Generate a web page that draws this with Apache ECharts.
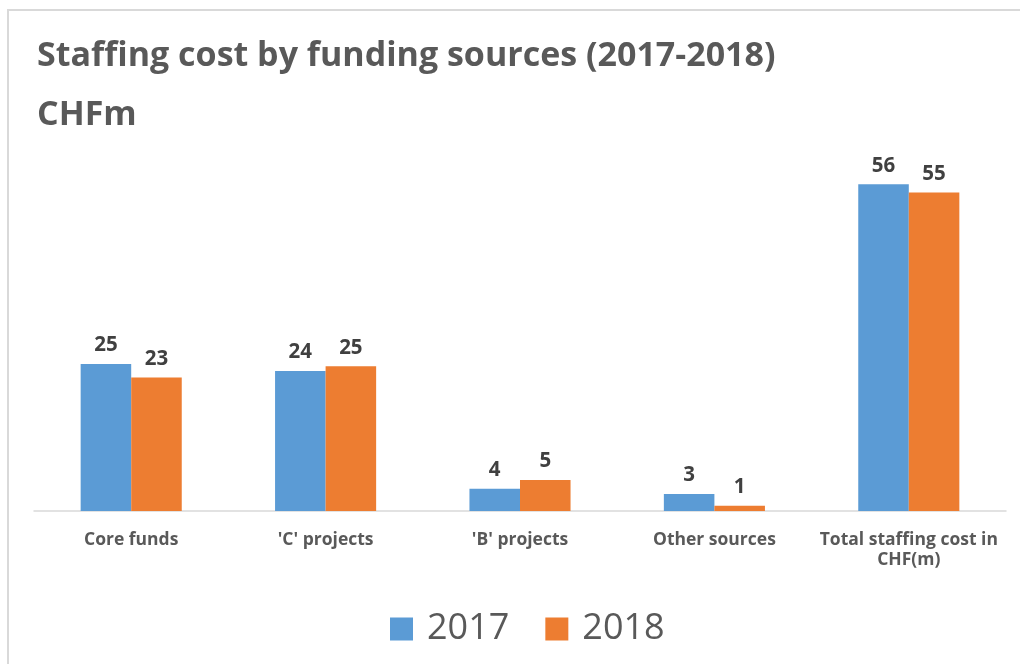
<!DOCTYPE html>
<html>
<head>
<meta charset="utf-8">
<script src="https://cdn.jsdelivr.net/npm/echarts@6/dist/echarts.min.js"></script>
<style>
    html, body { margin: 0; padding: 0; background: #fff; }
    #chart { width: 1020px; height: 664px; }
</style>
</head>
<body>
<div id="chart"></div>
<script>
const categories = ['Core funds', "'C' projects", "'B' projects", 'Other sources', 'Total staffing cost in\nCHF(m)'];
const values2017 = [25.2, 24.0, 3.8, 2.9, 56.0];
const values2018 = [22.9, 24.8, 5.3, 0.9, 54.6];
const seriesNames = ['2017', '2018'];

const myChart = echarts.init(document.getElementById('chart'));

const barLabel = {
    show: true,
    position: 'top',
    distance: 8,
    fontFamily: 'Open Sans',
    fontWeight: 'bold',
    fontSize: 20.5,
    color: '#404040',
    formatter: p => Math.round(p.value)
};

const option = {
    animation: false,
    color: ['#5B9BD5', '#ED7D31'],
    title: {
        text: 'Staffing cost by funding sources (2017-2018)\nCHFm',
        left: 32,
        top: 22,
        textStyle: {
            fontFamily: 'Open Sans',
            fontWeight: 'bold',
            fontSize: 34,
            lineHeight: 59,
            color: '#595959'
        }
    },
    graphic: [{
        type: 'rect',
        shape: { x: 8, y: 10, width: 1030, height: 680 },
        style: { fill: 'none', stroke: '#d9d9d9', lineWidth: 2 },
        silent: true
    }],
    legend: {
        data: seriesNames,
        bottom: 12,
        left: 385,
        itemWidth: 23,
        itemHeight: 23,
        itemGap: 36,
        icon: 'rect',
        textStyle: {
            fontFamily: 'Open Sans',
            fontSize: 36,
            color: '#595959',
            padding: [0, 0, 0, 9]
        }
    },
    grid: {
        left: 34,
        right: 14,
        top: 161,
        bottom: 153
    },
    xAxis: {
        type: 'category',
        data: categories,
        axisLine: { lineStyle: { color: '#d9d9d9', width: 1.5 } },
        axisTick: { show: false },
        axisLabel: {
            margin: 19,
            fontFamily: 'Open Sans',
            fontWeight: 'bold',
            fontSize: 17.5,
            lineHeight: 20,
            color: '#595959',
            interval: 0
        }
    },
    yAxis: {
        type: 'value',
        min: 0,
        max: 60,
        show: false
    },
    series: [
        {
            name: seriesNames[0],
            type: 'bar',
            data: values2017,
            barWidth: '26%',
            barGap: '0%',
            label: barLabel
        },
        {
            name: seriesNames[1],
            type: 'bar',
            data: values2018,
            barWidth: '26%',
            label: barLabel
        }
    ]
};
myChart.setOption(option);
</script>
</body>
</html>
